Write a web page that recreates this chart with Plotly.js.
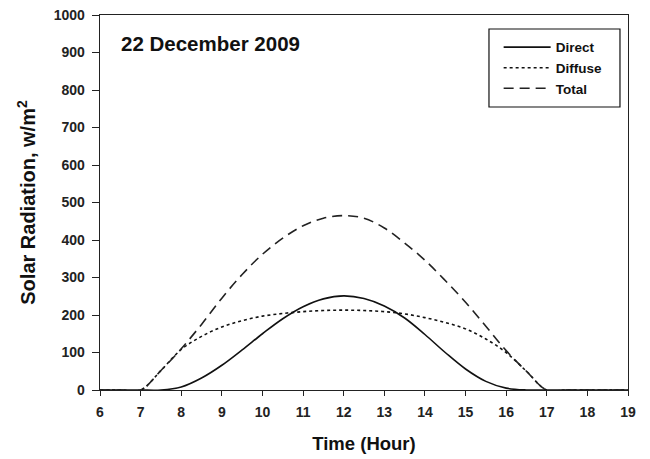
<!DOCTYPE html>
<html>
<head>
<meta charset="utf-8">
<script src="https://cdn.plot.ly/plotly-3.0.1.min.js"></script>
<style>html,body{margin:0;padding:0;background:#fff;}#chart{width:650px;height:459px;}</style>
</head>
<body>
<div id="chart"></div>
<script>
const hours   = [6, 6.5, 7, 7.5, 8, 8.5, 9, 9.5, 10, 10.5, 11, 11.5, 12, 12.5, 13, 13.5, 14, 14.5, 15, 15.5, 16, 16.5, 17, 17.5, 18, 18.5, 19];
const direct  = [0, 0, 0, 0, 8, 32, 66, 107, 150, 190, 222, 243, 251, 244, 224, 192, 148, 100, 56, 23, 5, 0, 0, 0, 0, 0, 0];
const diffuse = [0, 0, 0, 52, 108, 143, 168, 185, 197, 204, 209, 212, 213, 212, 209, 203, 193, 180, 163, 136, 100, 50, 0, 0, 0, 0, 0];
const total   = [0, 0, 0, 52, 110, 175, 245, 308, 362, 405, 438, 458, 465, 458, 432, 392, 346, 292, 234, 170, 105, 50, 0, 0, 0, 0, 0];
const seriesNames = ["Direct", "Diffuse", "Total"];
const xTicks = [6, 7, 8, 9, 10, 11, 12, 13, 14, 15, 16, 17, 18, 19];
const yTicks = [0, 100, 200, 300, 400, 500, 600, 700, 800, 900, 1000];

const font = "Liberation Sans, Arial, sans-serif";
const traces = [
  {x: hours, y: direct, name: seriesNames[0], mode: "lines", line: {color: "#111", width: 1.6, dash: "solid", shape: "spline"}},
  {x: hours, y: diffuse, name: seriesNames[1], mode: "lines", line: {color: "#111", width: 1.6, dash: "dot", shape: "spline"}},
  {x: hours, y: total, name: seriesNames[2], mode: "lines", line: {color: "#222", width: 1.6, dash: "10px,6px", shape: "spline"}}
];
const layout = {
  width: 650, height: 459,
  margin: {l: 100, r: 22, t: 15, b: 69},
  paper_bgcolor: "#fff", plot_bgcolor: "#fff",
  font: {family: font, color: "#222"},
  showlegend: true,
  legend: {x: 0.755, y: 0.955, xanchor: "left", yanchor: "top", borderwidth: 0, bgcolor: "rgba(0,0,0,0)",
           itemwidth: 47, font: {size: 13.5, family: font, color: "#111", weight: "bold"}, tracegroupgap: 0},
  shapes: [{type: "rect", xref: "paper", yref: "paper", x0: 0.7367, x1: 0.9848, y0: 0.7547, y1: 0.9627,
            line: {color: "#111", width: 1.2}, fillcolor: "rgba(0,0,0,0)", layer: "above"}],
  xaxis: {range: [6, 19], tickvals: xTicks, ticktext: xTicks.map(String), ticks: "outside", ticklen: 5, tickwidth: 1,
          tickcolor: "#222", showline: true, linecolor: "#222", linewidth: 1.3, mirror: true, showgrid: false, zeroline: false,
          tickfont: {size: 14, family: font, weight: "bold", color: "#222"}, ticklabelstandoff: 4,
          title: {text: "Time (Hour)", font: {size: 18.5, family: font, weight: "bold", color: "#111"}, standoff: 18}},
  yaxis: {range: [0, 1000], tickvals: yTicks, ticktext: yTicks.map(String), ticks: "outside", ticklen: 7, tickwidth: 1,
          tickcolor: "#222", showline: true, linecolor: "#222", linewidth: 1.3, mirror: true, showgrid: false, zeroline: false,
          tickfont: {size: 14, family: font, weight: "bold", color: "#222"}, ticklabelstandoff: 4,
          title: {text: "Solar Radiation, w/m<sup>2</sup>", font: {size: 20, family: font, weight: "bold", color: "#111"}, standoff: 12}},
  annotations: [{text: "22 December 2009", xref: "paper", yref: "paper", x: 0.036, y: 0.925, xanchor: "left", yanchor: "middle",
                 showarrow: false, font: {size: 20.5, family: font, weight: "bold", color: "#111"}}]
};
Plotly.newPlot("chart", traces, layout, {displayModeBar: false, staticPlot: true});
</script>
</body>
</html>
